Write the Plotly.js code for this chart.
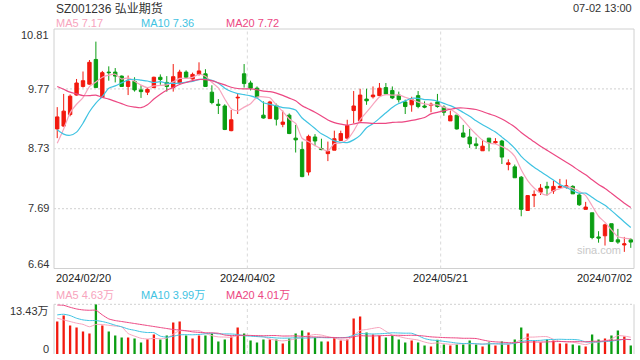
<!DOCTYPE html>
<html>
<head>
<meta charset="utf-8">
<script src="https://cdn.plot.ly/plotly-3.0.1.min.js"></script>
<style>
  html, body { margin: 0; padding: 0; background: #fff; }
  #chart { width: 640px; height: 360px; }
</style>
</head>
<body>
<div id="chart"></div>
<script>
// ---- data ----
const title = "SZ001236 弘业期货";
const timeStamp = "07-02 13:00";
const dateLabels = ["2024/02/20", "2024/04/02", "2024/05/21", "2024/07/02"];

const open = [9.07, 9.12, 9.32, 9.66, 9.81, 9.85, 10.28, 9.62, 10.06, 10.06,
  9.99, 9.81, 9.90, 9.75, 9.71, 9.79, 9.97, 9.88, 9.79, 9.87,
  10.06, 9.94, 10.02, 10.03, 9.71, 9.50, 9.47, 9.04, 9.61, 10.03,
  9.87, 9.78, 9.31, 9.25, 9.48, 9.15, 9.31, 8.91, 8.71, 8.32,
  8.93, 8.73, 8.64, 8.70, 8.87, 8.91, 9.39, 9.21, 9.59, 9.63,
  9.65, 9.79, 9.74, 9.66, 9.54, 9.49, 9.65, 9.47, 9.48, 9.54,
  9.45, 9.21, 9.31, 9.00, 8.93, 8.81, 8.69, 8.91, 8.83, 8.86,
  8.45, 8.41, 8.23, 7.65, 7.91, 7.97, 8.07, 7.99, 8.05, 8.05,
  8.07, 7.92, 7.67, 7.61, 7.19, 7.21, 7.42, 7.14, 7.05, 7.14];
const high = [9.45, 9.68, 9.67, 9.94, 10.07, 10.27, 10.59, 10.08, 10.16, 10.13,
  10.00, 10.00, 9.97, 9.83, 9.78, 9.98, 10.02, 9.99, 10.20, 10.10,
  10.09, 10.05, 10.23, 10.11, 9.83, 9.59, 9.50, 9.40, 9.68, 10.20,
  9.91, 9.81, 9.55, 9.56, 9.51, 9.39, 9.34, 9.14, 8.85, 8.97,
  8.98, 8.90, 8.85, 9.04, 9.04, 9.23, 9.73, 9.77, 9.77, 9.81,
  9.87, 9.87, 9.81, 9.72, 9.58, 9.63, 9.73, 9.55, 9.53, 9.68,
  9.48, 9.39, 9.31, 9.14, 9.07, 8.92, 8.88, 8.91, 8.91, 8.88,
  8.54, 8.45, 8.25, 7.92, 8.00, 8.11, 8.15, 8.17, 8.20, 8.19,
  8.09, 7.96, 7.80, 7.61, 7.29, 7.42, 7.42, 7.33, 7.19, 7.17];
const low = [8.91, 9.11, 9.29, 9.65, 9.79, 9.84, 9.79, 9.61, 9.91, 9.88,
  9.80, 9.66, 9.72, 9.61, 9.66, 9.78, 9.84, 9.72, 9.72, 9.86,
  9.95, 9.93, 10.00, 9.80, 9.50, 9.33, 9.05, 9.03, 9.33, 9.79,
  9.74, 9.60, 9.25, 9.25, 9.13, 9.10, 8.98, 8.66, 8.23, 8.26,
  8.77, 8.70, 8.51, 8.70, 8.86, 8.89, 9.17, 9.20, 9.49, 9.60,
  9.64, 9.66, 9.59, 9.53, 9.33, 9.37, 9.43, 9.43, 9.36, 9.44,
  9.30, 9.21, 9.06, 8.92, 8.74, 8.72, 8.69, 8.68, 8.81, 8.46,
  8.35, 8.22, 7.55, 7.65, 7.71, 7.92, 7.91, 7.94, 8.04, 8.03,
  7.94, 7.73, 7.67, 7.15, 7.09, 7.04, 7.11, 7.07, 6.93, 7.00];
const close = [9.28, 9.38, 9.64, 9.87, 9.91, 10.23, 9.79, 10.05, 10.05, 9.99,
  9.81, 9.90, 9.75, 9.72, 9.76, 9.97, 9.93, 9.81, 9.98, 10.06,
  9.97, 10.02, 10.08, 9.81, 9.53, 9.48, 9.06, 9.23, 9.62, 9.86,
  9.78, 9.63, 9.26, 9.54, 9.24, 9.19, 8.99, 8.88, 8.24, 8.94,
  8.86, 8.71, 8.68, 8.90, 8.99, 9.13, 9.47, 9.66, 9.56, 9.66,
  9.78, 9.68, 9.61, 9.58, 9.46, 9.58, 9.46, 9.45, 9.50, 9.46,
  9.36, 9.30, 9.07, 8.93, 8.81, 8.78, 8.77, 8.83, 8.85, 8.58,
  8.48, 8.22, 7.67, 7.91, 7.93, 8.04, 8.04, 8.07, 8.07, 8.08,
  7.94, 7.75, 7.71, 7.18, 7.17, 7.40, 7.11, 7.10, 7.07, 7.10];
// volume in 万 shares
const volume = [8.76, 10.37, 7.68, 7.15, 6.07, 5.53, 13.43, 7.68, 6.07, 5.00,
  4.46, 4.46, 4.19, 3.12, 4.00, 5.27, 3.94, 5.00, 8.49, 8.76,
  5.00, 4.19, 5.00, 5.00, 5.53, 3.39, 3.94, 4.73, 7.15, 5.53,
  3.66, 3.12, 3.94, 3.94, 3.90, 2.85, 4.19, 5.53, 6.34, 5.80,
  4.46, 3.39, 3.39, 4.46, 3.66, 3.94, 9.56, 10.10, 5.80, 5.27,
  5.00, 4.46, 5.00, 3.94, 3.12, 3.66, 3.12, 2.32, 2.05, 3.84,
  2.59, 2.32, 2.59, 2.59, 3.66, 2.59, 2.05, 3.12, 2.32, 3.39,
  2.59, 3.93, 7.15, 5.54, 3.66, 3.12, 3.93, 3.66, 2.86, 2.86,
  2.59, 2.32, 2.05, 5.27, 3.93, 4.20, 5.00, 6.35, 4.74, 2.32];

// moving-average values at the left edge (window reaches before the visible data)
const ma5Head = [8.82, 9.07, 9.35, 9.50];
const ma10Head = [9.055, 8.98, 8.96, 9.015, 9.17, 9.37, 9.52, 9.635, 9.78];
const ma20Head = [9.81, 9.76, 9.71, 9.68, 9.65, 9.65, 9.66, 9.62, 9.59, 9.55,
  9.51, 9.47, 9.45, 9.44, 9.49, 9.59, 9.675, 9.745, 9.79];
const vma5Head = [9.66, 9.21, 8.77, 8.33];
const vma10Head = [10.56, 10.74, 10.38, 9.66, 9.21, 9.03, 9.03, 8.77, 8.33];
const vma20Head = [13.24, 13.15, 12.62, 12.17, 11.90, 11.81, 11.81, 10.56, 9.48, 9.03,
  8.77, 8.50, 8.23, 7.96, 7.69, 7.42, 7.15, 6.88, 6.62];

const maLegend = ["MA5 7.17", "MA10 7.36", "MA20 7.72"];
const volLegend = ["MA5 4.63万", "MA10 3.99万", "MA20 4.01万"];
const priceTicks = [10.81, 9.77, 8.73, 7.69, 6.64];
const priceRange = [6.64, 10.81];
const volTicks = ["13.43万", "0"];
const volMax = 13.43;

// ---- helpers ----
function movingAvg(vals, n, head) {
  return vals.map((v, i) => {
    if (i < n - 1) return head[i];
    let s = 0;
    for (let j = i - n + 1; j <= i; j++) s += vals[j];
    return s / n;
  });
}

const idx = close.map((_, i) => i);
const RED = '#f2190e';
const GREEN = '#0b9e13';
const C5 = '#f7a4bd';
const C10 = '#3fc3e2';
const C20 = '#ec4883';
const FONT = '"Liberation Sans", Arial, "Noto Sans CJK SC", sans-serif';

const ma5 = movingAvg(close, 5, ma5Head);
const ma10 = movingAvg(close, 10, ma10Head);
const ma20 = movingAvg(close, 20, ma20Head);
const vma5 = movingAvg(volume, 5, vma5Head);
const vma10 = movingAvg(volume, 10, vma10Head);
const vma20 = movingAvg(volume, 20, vma20Head);
const volColors = close.map((c, i) => (c >= open[i] ? RED : GREEN));

const traces = [
  {
    type: 'candlestick', x: idx, open: open, high: high, low: low, close: close,
    xaxis: 'x', yaxis: 'y', whiskerwidth: 0,
    increasing: { line: { color: RED, width: 1 }, fillcolor: RED },
    decreasing: { line: { color: GREEN, width: 1 }, fillcolor: GREEN },
    hoverinfo: 'skip'
  },
  { type: 'scatter', mode: 'lines', x: idx, y: ma5, xaxis: 'x', yaxis: 'y', line: { color: C5, width: 1.2, shape: 'spline', smoothing: 0.6 }, hoverinfo: 'skip' },
  { type: 'scatter', mode: 'lines', x: idx, y: ma10, xaxis: 'x', yaxis: 'y', line: { color: C10, width: 1.2, shape: 'spline', smoothing: 0.6 }, hoverinfo: 'skip' },
  { type: 'scatter', mode: 'lines', x: idx, y: ma20, xaxis: 'x', yaxis: 'y', line: { color: C20, width: 1.2, shape: 'spline', smoothing: 0.6 }, hoverinfo: 'skip' },
  { type: 'bar', x: idx, y: volume, xaxis: 'x2', yaxis: 'y2', width: 0.36, marker: { color: volColors, line: { width: 0 } }, hoverinfo: 'skip' },
  { type: 'scatter', mode: 'lines', x: idx, y: vma5, xaxis: 'x2', yaxis: 'y2', line: { color: C5, width: 1, shape: 'spline', smoothing: 0.6 }, hoverinfo: 'skip' },
  { type: 'scatter', mode: 'lines', x: idx, y: vma10, xaxis: 'x2', yaxis: 'y2', line: { color: C10, width: 1, shape: 'spline', smoothing: 0.6 }, hoverinfo: 'skip' },
  { type: 'scatter', mode: 'lines', x: idx, y: vma20, xaxis: 'x2', yaxis: 'y2', line: { color: C20, width: 1, shape: 'spline', smoothing: 0.6 }, hoverinfo: 'skip' }
];

const n = close.length;
const xr = [-0.5, n - 0.5];
const gridX = [xr[0] + (xr[1] - xr[0]) / 3, xr[0] + 2 * (xr[1] - xr[0]) / 3];
const gridY = [1, 2, 3].map(i => priceRange[1] - i * (priceRange[1] - priceRange[0]) / 4);

const GRID = '#d9d9d9';
const BORDER = '#d0d0d0';
const shapes = [];
// main panel border
shapes.push({ type: 'rect', xref: 'x domain', yref: 'y domain', x0: 0, x1: 1, y0: 0, y1: 1, line: { color: BORDER, width: 1 }, layer: 'below' });
gridY.forEach(v => shapes.push({ type: 'line', xref: 'x domain', yref: 'y', x0: 0, x1: 1, y0: v, y1: v, line: { color: GRID, width: 1.2, dash: '2px,2px' }, layer: 'below' }));
gridX.forEach(v => {
  shapes.push({ type: 'line', xref: 'x', yref: 'y domain', x0: v, x1: v, y0: 0, y1: 1, line: { color: GRID, width: 1, dash: '3px,3px' }, layer: 'below' });
  shapes.push({ type: 'line', xref: 'x2', yref: 'y2 domain', x0: v, x1: v, y0: 0, y1: 1, line: { color: GRID, width: 1, dash: '3px,3px' }, layer: 'below' });
});
// volume panel frame
shapes.push({ type: 'line', xref: 'x2 domain', yref: 'y2 domain', x0: 0, x1: 1, y0: 1, y1: 1, line: { color: GRID, width: 1.2, dash: '2px,2px' }, layer: 'below' });
shapes.push({ type: 'line', xref: 'x2 domain', yref: 'y2 domain', x0: 0, x1: 0, y0: 0, y1: 1, line: { color: BORDER, width: 1 }, layer: 'below' });
shapes.push({ type: 'line', xref: 'x2 domain', yref: 'y2 domain', x0: 1, x1: 1, y0: 0, y1: 1, line: { color: BORDER, width: 1 }, layer: 'below' });

const ann = [];
const txt = (o) => Object.assign({ showarrow: false, font: { family: FONT, size: 11, color: '#333' } }, o);
ann.push(txt({ text: title, xref: 'paper', yref: 'paper', x: 0, y: 1, xanchor: 'left', yanchor: 'middle', yshift: 21, font: { family: FONT, size: 12, color: '#333' } }));
ann.push(txt({ text: timeStamp, xref: 'paper', yref: 'paper', x: 1, y: 1, xanchor: 'right', yanchor: 'middle', yshift: 21 }));
const legX = [0, 85, 170];
const legC = [C5, C10, C20];
maLegend.forEach((t, i) => ann.push(txt({ text: t, xref: 'paper', yref: 'y domain', x: 0, xshift: legX[i], y: 1, xanchor: 'left', yanchor: 'middle', yshift: 6, font: { family: FONT, size: 11, color: legC[i] } })));
volLegend.forEach((t, i) => ann.push(txt({ text: t, xref: 'paper', yref: 'y2 domain', x: 0, xshift: legX[i], y: 1, xanchor: 'left', yanchor: 'middle', yshift: 9, font: { family: FONT, size: 11, color: legC[i] } })));
priceTicks.forEach((v, i) => {
  let ys = 0;
  if (i === 0) ys = -6;
  if (i === priceTicks.length - 1) ys = 5;
  ann.push(txt({ text: v.toFixed(2), xref: 'paper', yref: 'y', x: 0, xshift: -3, y: v, xanchor: 'right', yanchor: 'middle', yshift: ys }));
});
ann.push(txt({ text: volTicks[0], xref: 'paper', yref: 'y2', x: 0, xshift: -3, y: volMax, xanchor: 'right', yanchor: 'middle', yshift: -7 }));
ann.push(txt({ text: volTicks[1], xref: 'paper', yref: 'y2', x: 0, xshift: -3, y: 0, xanchor: 'right', yanchor: 'middle', yshift: 5 }));
// date labels: left edge, 1/3, 2/3, right edge
const dPos = [xr[0], gridX[0], gridX[1], xr[1]];
const dAnc = ['left', 'center', 'center', 'right'];
dateLabels.forEach((t, i) => ann.push(txt({ text: t, xref: 'x', yref: 'y domain', x: dPos[i], y: 0, xanchor: dAnc[i], yanchor: 'middle', yshift: -9, font: { family: FONT, size: 11, color: '#222' } })));
ann.push(txt({ text: 'sina.com', xref: 'x domain', yref: 'y domain', x: 1, xshift: -11, y: 0, yshift: 19, xanchor: 'right', yanchor: 'middle', font: { family: FONT, size: 11, color: '#c8c8c8' } }));

const axisCommon = { showgrid: false, zeroline: false, showticklabels: false, showline: false, ticks: '', fixedrange: true };
const layout = {
  width: 640, height: 360,
  margin: { l: 54, r: 6, t: 29, b: 6 },
  paper_bgcolor: '#fff', plot_bgcolor: '#fff',
  showlegend: false, hovermode: false,
  boxgap: 0.25,
  xaxis: Object.assign({}, axisCommon, { domain: [0, 1], range: xr, anchor: 'y', rangeslider: { visible: false } }),
  xaxis2: Object.assign({}, axisCommon, { domain: [0, 1], range: xr, anchor: 'y2' }),
  yaxis: Object.assign({}, axisCommon, { domain: [0.263, 1], range: priceRange, anchor: 'x' }),
  yaxis2: Object.assign({}, axisCommon, { domain: [0, 0.153], range: [0, volMax], anchor: 'x2' }),
  bargap: 0.6,
  shapes: shapes,
  annotations: ann
};

Plotly.newPlot('chart', traces, layout, { staticPlot: true, displayModeBar: false });
</script>
</body>
</html>
